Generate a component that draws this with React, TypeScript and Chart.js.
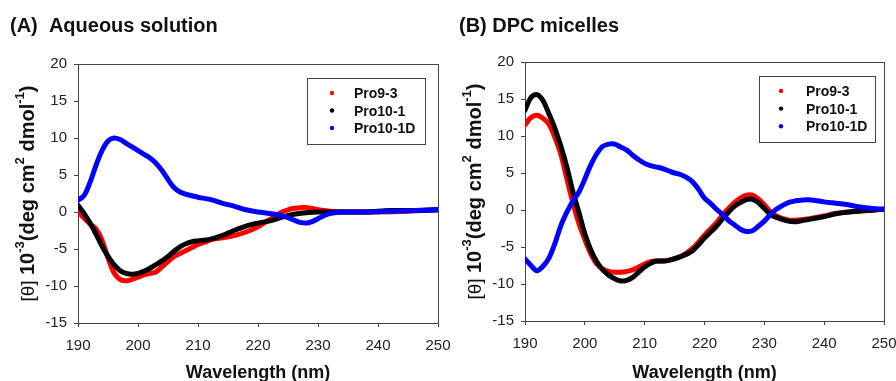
import React, { useEffect, useRef } from "react";
import { Chart, registerables } from "chart.js";

Chart.register(...registerables);

const FONT = 'Arial, "Liberation Sans", sans-serif';

const seriesNames = ["Pro9-3", "Pro10-1", "Pro10-1D"];
const seriesColors = ["#ff0000", "#000000", "#0000ff"];
const xTicks = [190, 200, 210, 220, 230, 240, 250];
const yTicks = [-15, -10, -5, 0, 5, 10, 15, 20];

// Panel A: Aqueous solution
const wlA_Pro93 = [190,191,192,193,194,195,196,197,198,199,200,201,202,203,204,205,206,207,208,209,210,211,212,213,214,216,218,220,222,223,224,225,226,228,230,232,234,240,245,250];
const cdA_Pro93 = [0,-0.8,-1.6,-2.3,-3.8,-6.2,-8.2,-9.1,-9.3,-9.1,-8.8,-8.5,-8.3,-8.1,-7.4,-6.7,-6.0,-5.6,-5.2,-4.8,-4.4,-4.1,-3.8,-3.6,-3.5,-3.2,-2.7,-2.0,-1.0,-0.5,0.0,0.3,0.5,0.6,0.3,0.1,0,0,0.1,0.3];

const wlA_Pro101 = [190,191,192,193,194,195,196,197,198,199,200,201,202,203,204,205,206,207,208,209,210,211,212,214,216,218,220,222,224,226,228,230,234,238,242,246,250];
const cdA_Pro101 = [0.9,-0.2,-1.5,-3.0,-4.6,-6.0,-7.1,-7.9,-8.3,-8.4,-8.3,-8.0,-7.6,-7.1,-6.6,-6.0,-5.3,-4.7,-4.3,-4.0,-3.9,-3.8,-3.7,-3.2,-2.5,-1.9,-1.5,-1.2,-0.7,-0.3,-0.1,0,0,0,0.2,0.2,0.3];

const wlA_Pro101D = [190,191,192,193,194,195,196,197,198,199,200,201,202,203,204,205,206,207,208,209,210,212,214,216,218,220,222,224,226,227,228,229,230,231,232,234,238,242,246,250];
const cdA_Pro101D = [1.6,2.2,4.0,6.3,8.3,9.6,10,9.8,9.3,8.8,8.3,7.8,7.3,6.6,5.6,4.4,3.3,2.7,2.4,2.2,2.0,1.7,1.2,0.8,0.3,0.0,-0.2,-0.5,-1.1,-1.4,-1.5,-1.3,-0.9,-0.5,-0.2,0,0,0.1,0.2,0.3];

// Panel B: DPC micelles
const wlB_Pro93 = [190,191,192,193,194,195,196,197,198,199,200,201,202,203,204,205,206,207,208,209,210,211,212,213,214,216,218,220,222,223,224,225,226,227,228,229,230,231,232,234,236,238,240,242,245,250];
const cdB_Pro93 = [11.5,12.5,12.8,12.4,11.6,9.8,7.5,4.2,1.0,-1.8,-4.0,-5.9,-7.3,-8.0,-8.3,-8.4,-8.4,-8.3,-8.1,-7.7,-7.3,-7.0,-6.9,-6.9,-6.8,-6.3,-5.2,-3.4,-1.7,-0.7,0.2,1.0,1.6,2.0,2.0,1.5,0.7,-0.2,-0.8,-1.35,-1.3,-1.1,-0.8,-0.45,-0.2,0.1];

const wlB_Pro101 = [190,191,192,193,194,195,196,197,198,199,200,201,202,203,204,205,206,207,208,209,210,211,212,213,214,216,218,220,222,223,224,225,226,227,228,229,230,231,232,234,235,236,238,240,242,245,250];
const cdB_Pro101 = [13.5,15.2,15.6,14.8,13.0,11.0,8.6,5.8,2.5,-0.3,-3.2,-5.4,-7.0,-8.1,-8.8,-9.3,-9.6,-9.5,-9.1,-8.4,-7.7,-7.2,-6.9,-6.9,-6.8,-6.3,-5.5,-3.8,-2.2,-1.2,-0.3,0.5,1.0,1.4,1.45,1.0,0.2,-0.6,-1.0,-1.5,-1.6,-1.5,-1.2,-0.9,-0.5,-0.2,0.1];

const wlB_Pro101D = [190,191,192,193,194,195,196,197,198,199,200,201,202,203,204,205,206,207,208,209,210,211,212,213,214,215,216,217,218,219,220,221,222,223,224,225,226,227,228,229,230,231,232,233,234,235,236,237,238,240,242,244,246,248,250];
const cdB_Pro101D = [-6.6,-7.5,-8.2,-7.6,-6.5,-4.5,-2.1,-0.3,1.2,2.4,4.2,6.1,7.6,8.6,8.9,8.9,8.5,8.1,7.4,6.8,6.3,6.0,5.8,5.6,5.3,5.0,4.8,4.4,3.8,2.8,1.6,0.9,0.1,-0.6,-1.4,-2.0,-2.6,-2.9,-2.8,-2.2,-1.5,-0.6,0.1,0.6,1.0,1.2,1.3,1.4,1.35,1.1,0.9,0.7,0.4,0.2,0.1];

const pts = (xs: number[], ys: number[]) => xs.map((x, i) => ({ x, y: ys[i] }));

const decorPlugin = {
  id: "decor",
  beforeDatasetsDraw(chart: any) {
    const { ctx, chartArea: ca } = chart;
    ctx.save();
    ctx.strokeStyle = "#444";
    ctx.lineWidth = 1;
    ctx.strokeRect(Math.round(ca.left) + 0.5, Math.round(ca.top) + 0.5, Math.round(ca.right - ca.left), Math.round(ca.bottom - ca.top));
    ctx.restore();
  },
  afterDraw(chart: any, _args: any, opts: any) {
    const { ctx, chartArea: ca } = chart;
    ctx.save();
    // panel title
    ctx.fillStyle = "#111";
    ctx.font = `bold 20px ${FONT}`;
    ctx.textAlign = "left";
    ctx.textBaseline = "alphabetic";
    ctx.fillText(opts.title, opts.titleX, 31.5);

    // x axis title
    ctx.font = `bold 18px ${FONT}`;
    ctx.textAlign = "center";
    ctx.fillText("Wavelength (nm)", (ca.left + ca.right) / 2, 378);

    // y axis title (rotated, mixed styles)
    const segs = [
      { t: "[\u03b8] ", f: `19px ${FONT}`, up: 0 },
      { t: "10", f: `bold 20px ${FONT}`, up: 0 },
      { t: "-3", f: `bold 13px ${FONT}`, up: 10 },
      { t: "(deg cm", f: `bold 20px ${FONT}`, up: 0 },
      { t: "2", f: `bold 13px ${FONT}`, up: 10 },
      { t: " dmol", f: `bold 20px ${FONT}`, up: 0 },
      { t: "-1", f: `bold 13px ${FONT}`, up: 10 },
      { t: ")", f: `bold 20px ${FONT}`, up: 0 },
    ];
    let total = 0;
    const widths = segs.map((s) => {
      ctx.font = s.f;
      const w = ctx.measureText(s.t).width;
      total += w;
      return w;
    });
    const sx = opts.yTitleLength / total;
    ctx.translate(opts.yTitleX, (ca.top + ca.bottom) / 2);
    ctx.rotate(-Math.PI / 2);
    ctx.scale(sx, 1);
    ctx.textAlign = "left";
    let cx = -total / 2;
    segs.forEach((s, i) => {
      ctx.font = s.f;
      ctx.fillText(s.t, cx, -s.up);
      cx += widths[i];
    });
    ctx.setTransform(1, 0, 0, 1, 0, 0);

    // legend
    const L = opts.legend;
    ctx.strokeStyle = "#444";
    ctx.lineWidth = 1;
    ctx.fillStyle = "#fff";
    ctx.fillRect(L.x + 0.5, L.y + 0.5, L.w, L.h);
    ctx.strokeRect(L.x + 0.5, L.y + 0.5, L.w, L.h);
    ctx.font = `bold 14px ${FONT}`;
    ctx.textAlign = "left";
    chart.data.datasets.forEach((ds: any, i: number) => {
      const cy = L.row0 + i * L.gap;
      ctx.fillStyle = ds.borderColor;
      ctx.beginPath();
      ctx.arc(L.dotX, cy, 2.2, 0, Math.PI * 2);
      ctx.fill();
      ctx.fillStyle = "#111";
      ctx.fillText(ds.label, L.textX, cy + 5);
    });
    ctx.restore();
  },
};

type PanelProps = {
  left: number;
  width: number;
  pad: { top: number; right: number };
  yWidth: number;
  xHeight: number;
  series: { x: number[]; y: number[] }[];
  deco: any;
};

function Panel({ left, width, pad, yWidth, xHeight, series, deco }: PanelProps) {
  const ref = useRef<HTMLCanvasElement>(null);
  useEffect(() => {
    if (!ref.current) return;
    const chart = new Chart(ref.current, {
      type: "line",
      data: {
        datasets: series.map((s, i) => ({
          label: seriesNames[i],
          data: pts(s.x, s.y),
          borderColor: seriesColors[i],
          backgroundColor: seriesColors[i],
          borderWidth: 5,
          pointRadius: 0,
          tension: 0.35,
          fill: false,
          borderCapStyle: "round",
          borderJoinStyle: "round",
          order: 2 - i,
        })),
      },
      options: {
        responsive: false,
        animation: false,
        devicePixelRatio: 1,
        layout: { padding: { top: pad.top, right: pad.right, left: 0, bottom: 0 } },
        plugins: {
          legend: { display: false },
          tooltip: { enabled: false },
          decor: deco,
        } as any,
        scales: {
          x: {
            type: "linear",
            min: 190,
            max: 250,
            afterBuildTicks: (s: any) => {
              s.ticks = xTicks.map((v) => ({ value: v }));
            },
            afterFit: (s: any) => {
              s.height = xHeight;
              s.paddingLeft = 0;
              s.paddingRight = 0;
            },
            ticks: { font: { family: FONT, size: 15 }, color: "#222", padding: 10, maxRotation: 0, autoSkip: false },
            grid: { drawOnChartArea: false, drawTicks: true, tickLength: 4, color: "#444" },
            border: { display: true, color: "#444" },
          },
          y: {
            type: "linear",
            min: -15,
            max: 20,
            afterBuildTicks: (s: any) => {
              s.ticks = yTicks.map((v) => ({ value: v }));
            },
            afterFit: (s: any) => {
              s.width = yWidth;
              s.paddingTop = 0;
              s.paddingBottom = 0;
            },
            ticks: { font: { family: FONT, size: 15 }, color: "#222", padding: 7, autoSkip: false },
            grid: { drawOnChartArea: false, drawTicks: true, tickLength: 4, color: "#444" },
            border: { display: true, color: "#444" },
          },
        },
      } as any,
      plugins: [decorPlugin],
    });
    return () => chart.destroy();
  }, []);
  return (
    <canvas
      ref={ref}
      width={width}
      height={381}
      style={{ position: "absolute", left, top: 0, width, height: 381 }}
    />
  );
}

export default function App() {
  return (
    <div style={{ position: "absolute", left: 0, top: 0, width: 896, height: 381, background: "#fff", overflow: "hidden" }}>
      <Panel
        left={0}
        width={460}
        pad={{ top: 64, right: 22 }}
        yWidth={78}
        xHeight={58}
        series={[
          { x: wlA_Pro93, y: cdA_Pro93 },
          { x: wlA_Pro101, y: cdA_Pro101 },
          { x: wlA_Pro101D, y: cdA_Pro101D },
        ]}
        deco={{
          title: "(A)  Aqueous solution",
          titleX: 10,
          yTitleX: 33.5,
          yTitleLength: 216,
          legend: { x: 307, y: 78, w: 118, h: 66, dotX: 332, textX: 354, row0: 93, gap: 17.5 },
        }}
      />
      <Panel
        left={448}
        width={448}
        pad={{ top: 62, right: 12 }}
        yWidth={77}
        xHeight={60}
        series={[
          { x: wlB_Pro93, y: cdB_Pro93 },
          { x: wlB_Pro101, y: cdB_Pro101 },
          { x: wlB_Pro101D, y: cdB_Pro101D },
        ]}
        deco={{
          title: "(B) DPC micelles",
          titleX: 11,
          yTitleX: 33,
          yTitleLength: 216,
          legend: { x: 311, y: 76, w: 116, h: 66, dotX: 333, textX: 358, row0: 91, gap: 17.6 },
        }}
      />
    </div>
  );
}
